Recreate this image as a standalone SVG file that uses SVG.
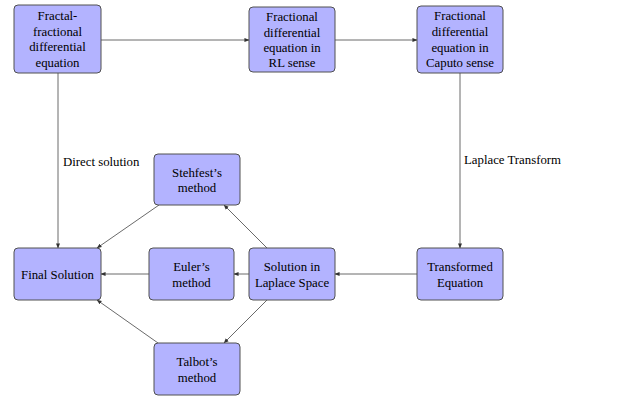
<svg xmlns="http://www.w3.org/2000/svg" width="624" height="404" viewBox="0 0 624 404">
<defs>
<marker id="arr" viewBox="0 0 6 6" refX="5.5" refY="3" markerWidth="5" markerHeight="5" markerUnits="userSpaceOnUse" orient="auto">
<path d="M0,0.6 L6,3 L0,5.4 Z" fill="#333"/>
</marker>
</defs>
<style>
.box{fill:#b3b3ff;stroke:#505050;stroke-width:1}
.t{font-family:"Liberation Serif","Times New Roman",serif;font-size:12.8px;fill:#000;text-anchor:middle}
.l{font-family:"Liberation Serif","Times New Roman",serif;font-size:12.8px;fill:#000}
.c{fill:none;stroke:#444;stroke-width:0.8;marker-end:url(#arr)}
</style>
<rect width="624" height="404" fill="#fff"/>
<g id="connectors">
<line class="c" x1="101" y1="40" x2="249" y2="40"/>
<line class="c" x1="335" y1="40" x2="417" y2="40"/>
<line class="c" x1="58" y1="73" x2="58" y2="248"/>
<line class="c" x1="460" y1="73" x2="460" y2="248"/>
<line class="c" x1="417" y1="274" x2="335" y2="274"/>
<line class="c" x1="249" y1="274" x2="234" y2="274"/>
<line class="c" x1="149" y1="274" x2="101" y2="274"/>
<line class="c" x1="267" y1="248" x2="224" y2="205"/>
<line class="c" x1="159" y1="205" x2="97" y2="248"/>
<line class="c" x1="267" y1="300" x2="224" y2="343"/>
<line class="c" x1="158" y1="343" x2="97" y2="300"/>
<text class="l" x="63" y="166">Direct solution</text>
<text class="l" x="464" y="164">Laplace Transform</text>
</g>
<g id="n1">
<rect class="box" x="14" y="5" width="87" height="68" rx="4"/>
<text class="t" x="57.5" y="19.5">Fractal-</text>
<text class="t" x="57.5" y="35.5">fractional</text>
<text class="t" x="57.5" y="51">differential</text>
<text class="t" x="57.5" y="67">equation</text>
</g>
<g id="n2">
<rect class="box" x="249" y="7" width="86" height="65" rx="4"/>
<text class="t" x="292" y="20.5">Fractional</text>
<text class="t" x="292" y="36.5">differential</text>
<text class="t" x="292" y="52">equation in</text>
<text class="t" x="292" y="67">RL sense</text>
</g>
<g id="n3">
<rect class="box" x="417" y="6" width="86" height="67" rx="4"/>
<text class="t" x="460" y="20">Fractional</text>
<text class="t" x="460" y="36">differential</text>
<text class="t" x="460" y="51.5">equation in</text>
<text class="t" x="460" y="67">Caputo sense</text>
</g>
<g id="stehfest">
<rect class="box" x="154" y="154" width="86" height="51" rx="4"/>
<text class="t" x="197" y="176.5">Stehfest’s</text>
<text class="t" x="197" y="192">method</text>
</g>
<g id="final">
<rect class="box" x="14" y="248" width="87" height="52" rx="4"/>
<text class="t" x="57.5" y="279">Final Solution</text>
</g>
<g id="euler">
<rect class="box" x="149" y="248" width="85" height="52" rx="4"/>
<text class="t" x="191.5" y="271">Euler’s</text>
<text class="t" x="191.5" y="287">method</text>
</g>
<g id="laplace">
<rect class="box" x="249" y="248" width="86" height="52" rx="4"/>
<text class="t" x="292" y="271">Solution in</text>
<text class="t" x="292" y="287">Laplace Space</text>
</g>
<g id="transformed">
<rect class="box" x="417" y="248" width="86" height="52" rx="4"/>
<text class="t" x="460" y="270.5">Transformed</text>
<text class="t" x="460" y="286.5">Equation</text>
</g>
<g id="talbot">
<rect class="box" x="154" y="343" width="86" height="52" rx="4"/>
<text class="t" x="197" y="366">Talbot’s</text>
<text class="t" x="197" y="381.5">method</text>
</g>
</svg>
